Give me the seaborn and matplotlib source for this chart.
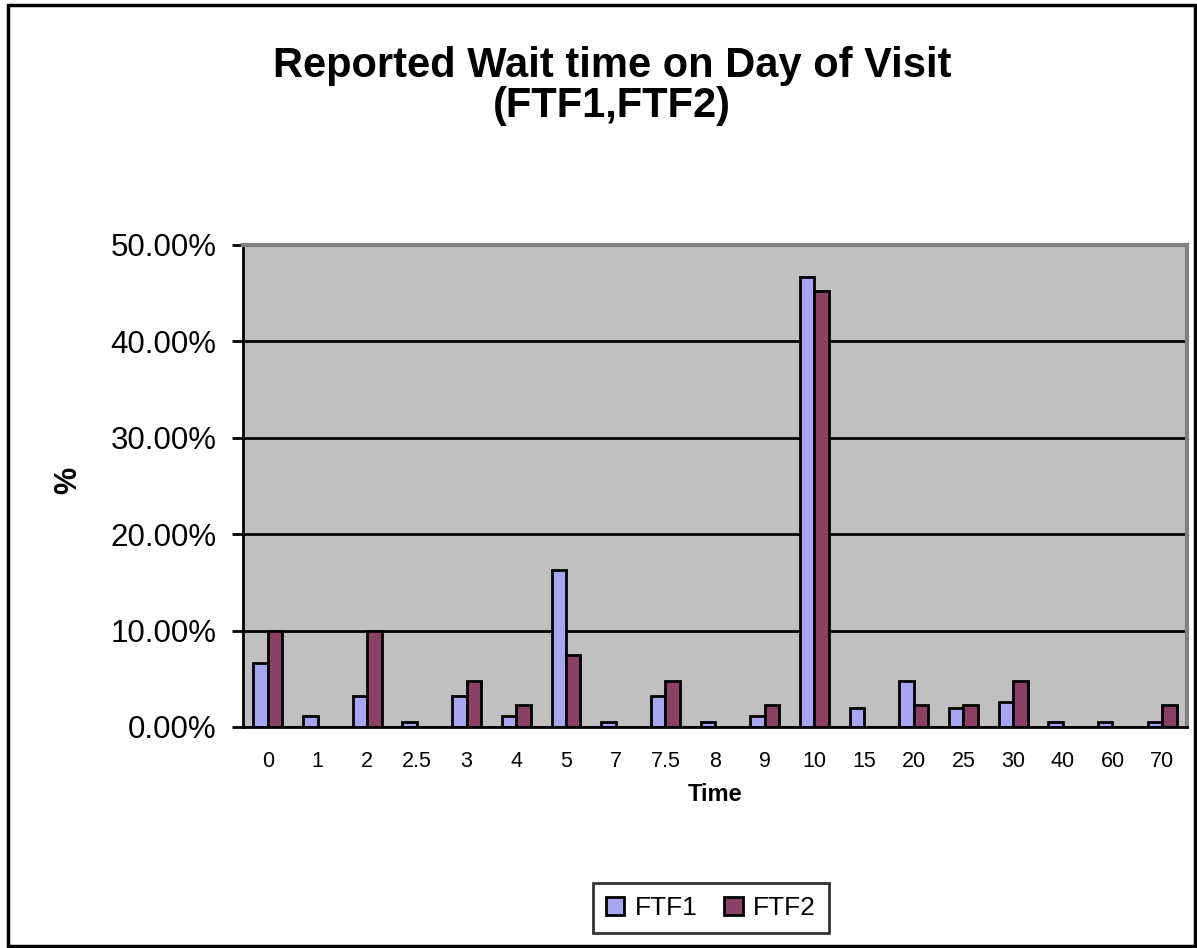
import matplotlib
matplotlib.use("Agg")
import matplotlib.pyplot as plt
from matplotlib.patches import Rectangle
from matplotlib.ticker import FuncFormatter, FixedLocator
import seaborn as sns
import pandas as pd
import numpy as np

categories = ["0", "1", "2", "2.5", "3", "4", "5", "7", "7.5", "8", "9",
              "10", "15", "20", "25", "30", "40", "60", "70"]
ftf1 = [6.6, 1.1, 3.2, 0.5, 3.2, 1.1, 16.3, 0.5, 3.2, 0.5, 1.1,
        46.7, 2.0, 4.8, 2.0, 2.6, 0.5, 0.5, 0.5]
ftf2 = [10.0, 0.0, 10.0, 0.0, 4.8, 2.3, 7.5, 0.0, 4.8, 0.0, 2.3,
        45.2, 0.0, 2.3, 2.3, 4.8, 0.0, 0.0, 2.3]
series_names = ["FTF1", "FTF2"]
colors = ["#9999FF", "#993366"]

df = pd.DataFrame({
    "Time": categories * 2,
    "Value": ftf1 + ftf2,
    "Series": [series_names[0]] * len(categories) + [series_names[1]] * len(categories),
})

sns.set_style("white")
plt.rcParams["font.family"] = ["Liberation Sans", "DejaVu Sans"]
plt.rcParams["text.color"] = "black"
plt.rcParams["xtick.color"] = "black"
plt.rcParams["ytick.color"] = "black"
plt.rcParams["axes.labelcolor"] = "black"

fig = plt.figure(figsize=(11.97, 9.48), dpi=100)
ax = fig.add_axes([243 / 1197, (948 - 727) / 948, 944 / 1197, 482 / 948])
ax.set_facecolor("#C0C0C0")

sns.barplot(data=df, x="Time", y="Value", hue="Series", order=categories,
            hue_order=series_names, palette=colors, width=0.58,
            edgecolor="black", linewidth=2, ax=ax, legend=True)

ax.set_ylim(0, 50)
ax.set_xlim(-0.5, len(categories) - 0.5)
ax.set_yticks([0, 10, 20, 30, 40, 50])
ax.yaxis.set_major_formatter(FuncFormatter(lambda v, p: f"{v:.2f}%"))
ax.grid(axis="y", color="black", linewidth=2)
ax.set_axisbelow(True)

# tick marks between categories, labels centred
ax.xaxis.set_minor_locator(FixedLocator(np.arange(-0.5, len(categories), 1.0)))
ax.tick_params(axis="x", which="major", length=0, labelsize=15.5, pad=17)
ax.tick_params(axis="x", which="minor", length=7, width=2, direction="out", color="black")
ax.tick_params(axis="y", which="major", length=8, width=2, direction="out",
               color="black", labelsize=22.5, pad=11, left=True)

for s in ["left", "bottom"]:
    ax.spines[s].set_color("black")
    ax.spines[s].set_linewidth(2)
for s in ["top", "right"]:
    ax.spines[s].set_visible(True)
    ax.spines[s].set_color("#808080")
    ax.spines[s].set_linewidth(3)

ax.set_xlabel("Time", fontsize=17, fontweight="bold", labelpad=8)
ax.set_ylabel("")
fig.text(68 / 1197, 1 - 480 / 948, "%", rotation=90, fontsize=22, fontweight="bold",
         ha="center", va="center")

fig.text(612 / 1197, 1 - 66 / 948, "Reported Wait time on Day of Visit",
         fontsize=30, fontweight="bold", ha="center", va="center")
fig.text(612 / 1197, 1 - 106 / 948, "(FTF1,FTF2)",
         fontsize=30, fontweight="bold", ha="center", va="center")

leg = ax.legend(loc="center", bbox_to_anchor=(711 / 1197, 1 - 908 / 948),
                bbox_transform=fig.transFigure, ncol=2, frameon=True, fontsize=19,
                handlelength=0.7, handleheight=0.7, handletextpad=0.4, columnspacing=1.0,
                borderpad=0.5, fancybox=False)
leg.get_frame().set_edgecolor("black")
leg.get_frame().set_linewidth(2)
for h in leg.legend_handles:
    h.set_edgecolor("black")
    h.set_linewidth(2)

fig.patches.append(Rectangle((8 / 1197, 2 / 948), 1187 / 1197, 941 / 948,
                             transform=fig.transFigure, fill=False,
                             edgecolor="black", linewidth=2.5))

fig.savefig("out.png", dpi=100, facecolor="white")
